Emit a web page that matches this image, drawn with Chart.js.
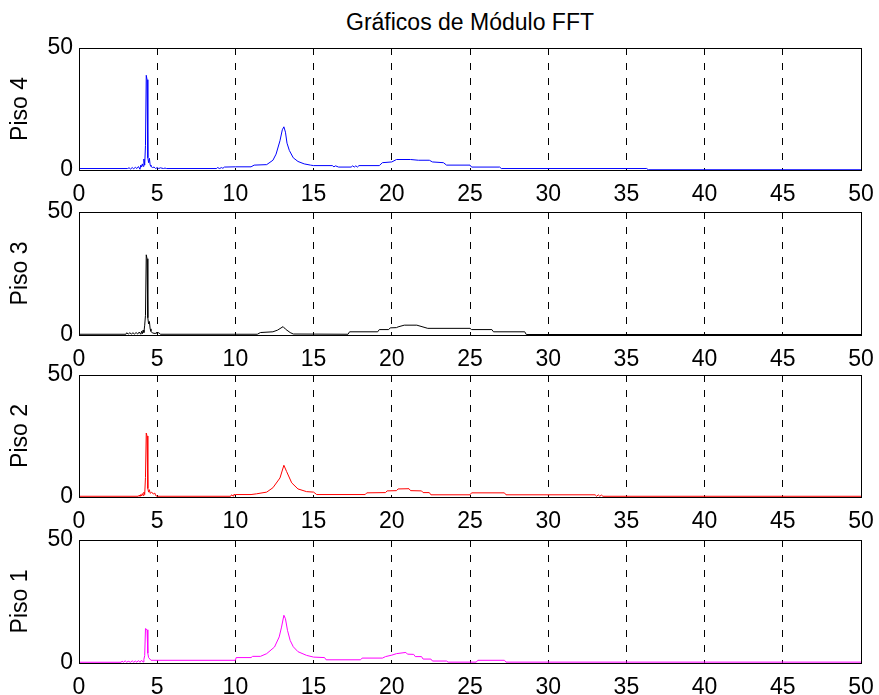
<!DOCTYPE html>
<html>
<head>
<meta charset="utf-8">
<title>Gráficos de Módulo FFT</title>
<script src="https://cdn.jsdelivr.net/npm/chart.js@4.4.1/dist/chart.umd.min.js"></script>
<style>
  html, body { margin: 0; padding: 0; background: #fff; }
  body { width: 879px; height: 695px; position: relative; overflow: hidden; font-family: 'Liberation Sans', Arial, sans-serif; }
  #title { position: absolute; left: 79px; width: 782px; top: 9px; text-align: center; font-size: 23px; line-height: 26px; color: #000; }
  .panel { position: absolute; left: 0; }
</style>
</head>
<body>
<div id="title">Gráficos de Módulo FFT</div>
<div class="panel" style="top:34px"><canvas id="c4" width="879" height="172"></canvas></div>
<div class="panel" style="top:198px"><canvas id="c3" width="879" height="173"></canvas></div>
<div class="panel" style="top:361px"><canvas id="c2" width="879" height="172"></canvas></div>
<div class="panel" style="top:526px"><canvas id="c1" width="879" height="173"></canvas></div>
<script>
// frequency (Hz) and FFT magnitude pairs for each floor
const piso4 = [[0,0.6],[3.1,0.6],[3.2,0.9],[3.3,0.4],[3.4,1.0],[3.5,0.5],[3.6,1.1],[3.7,0.6],[3.8,1.4],[3.9,0.3],
  [3.95,2.0],[4.0,1.2],[4.05,2.5],[4.1,1.5],[4.15,4.5],[4.2,2.0],[4.25,10],[4.3,38.8],[4.35,37],[4.4,5.0],
  [4.45,3.0],[4.5,4.8],[4.55,2.0],[4.6,1.5],[4.7,1.0],[4.8,1.2],[4.9,0.6],[5.0,1.0],[5.1,0.6],[5.2,0.9],
  [5.4,0.6],[5.5,0.8],[5.6,0.6],[8.8,0.6],[8.85,1.0],[9.0,0.6],[9.1,1.0],[9.2,0.7],[9.3,1.2],[10.0,1.3],
  [11.0,1.3],[11.2,2.0],[12.0,2.2],[12.4,4.0],[12.6,6.5],[12.85,12],[13.0,16.5],[13.1,17.7],[13.2,15.5],[13.3,11],
  [13.45,8.0],[13.7,5.0],[14.0,3.5],[14.4,2.5],[14.8,2.0],[15.0,1.8],[16.2,1.8],[16.3,1.3],[16.4,1.7],[16.6,1.2],
  [17.4,1.2],[17.5,1.7],[17.6,1.2],[17.7,1.7],[17.8,1.2],[17.9,1.8],[19.2,1.8],[19.4,3.0],[20.0,3.3],[20.3,4.3],
  [21.2,4.3],[21.7,4.0],[22.4,4.0],[22.6,3.3],[23.3,3.0],[23.5,2.0],[25.0,2.0],[25.1,1.2],[26.9,1.2],[27.0,0.6],
  [36.3,0.6],[36.4,0.1],[50,0.1]];

const piso3 = [[0,0.3],[3.0,0.3],[3.05,0.9],[3.15,0.4],[3.25,0.9],[3.35,0.4],[3.45,0.9],[3.55,0.4],[3.65,1.0],[3.75,0.4],
  [3.85,1.2],[3.95,0.3],[4.0,1.5],[4.05,0.5],[4.1,2.0],[4.15,1.0],[4.2,4.0],[4.25,8],[4.3,32.6],[4.35,31],
  [4.4,7],[4.45,4.5],[4.5,5.5],[4.55,2.5],[4.6,1.5],[4.7,0.8],[4.9,0.6],[4.95,1.1],[5.0,0.4],[5.1,1.0],
  [5.2,0.3],[11.4,0.3],[11.6,1.0],[12.4,1.3],[12.7,2.0],[13.05,3.4],[13.2,2.4],[13.5,1.0],[13.7,0.4],[17.2,0.3],
  [17.3,1.3],[19.1,1.3],[19.2,2.2],[19.8,2.2],[19.9,2.9],[20.3,3.0],[20.4,3.3],[20.8,4.0],[21.6,4.0],[22.3,2.7],
  [25.0,2.7],[25.1,2.2],[26.4,2.2],[26.5,1.3],[28.5,1.3],[28.6,0.2],[50,0.2]];

const piso2 = [[0,0.3],[3.8,0.3],[3.85,0.8],[3.9,0.3],[3.95,1.0],[4.0,0.4],[4.05,1.4],[4.1,0.6],[4.15,2.0],[4.2,1.0],
  [4.25,8],[4.3,26.2],[4.35,25],[4.4,3.5],[4.45,2.0],[4.5,3.0],[4.55,1.5],[4.65,2.0],[4.75,1.2],[4.85,1.6],
  [4.9,0.6],[5.0,0.3],[9.7,0.3],[9.75,0.9],[9.85,0.4],[9.9,1.0],[10.0,1.0],[11.0,1.0],[11.35,1.3],[12.0,2.0],
  [12.4,3.8],[12.85,7.8],[13.1,13.0],[13.27,10.5],[13.6,5.8],[14.0,3.3],[14.55,2.2],[15.0,2.0],[15.2,1.0],[18.3,1.0],
  [18.4,1.7],[19.6,1.8],[19.7,2.5],[20.3,2.6],[20.4,3.3],[21.1,3.4],[21.2,2.6],[21.9,2.5],[22.0,1.8],[22.4,1.8],
  [22.5,0.9],[25.0,0.9],[25.1,1.7],[27.2,1.7],[27.3,0.9],[33.0,0.9],[33.1,0.3],[33.2,0.9],[33.3,0.3],[33.4,0.8],
  [33.5,0.3],[50,0.3]];

const piso1 = [[0,0.3],[2.7,0.3],[2.75,0.8],[2.85,0.3],[2.95,0.9],[3.05,0.3],[3.15,0.7],[3.3,0.3],[3.4,0.9],[3.5,0.3],
  [3.6,0.8],[3.7,0.3],[3.8,1.0],[3.9,0.3],[4.0,1.1],[4.1,0.4],[4.15,1.5],[4.2,3.0],[4.25,14.0],[4.35,13.5],
  [4.4,4.0],[4.45,2.2],[4.6,1.1],[10.0,1.1],[10.05,2.2],[11.0,2.2],[11.1,2.7],[11.6,2.7],[12.0,3.8],[12.5,6.5],
  [12.8,10.6],[12.95,14.6],[13.1,19.4],[13.2,18.0],[13.33,13.3],[13.5,9.2],[13.7,6.6],[14.0,4.6],[14.55,3.1],[15.0,2.4],
  [15.7,2.2],[15.8,1.3],[18.0,1.3],[18.1,2.0],[19.4,2.0],[19.6,2.6],[20.0,3.2],[20.3,3.8],[20.9,4.3],[21.0,3.6],
  [21.4,3.5],[21.5,2.6],[21.9,2.6],[22.0,1.6],[22.5,1.6],[22.6,0.8],[23.5,0.8],[23.6,0.35],[25.4,0.35],[25.5,1.1],
  [27.2,1.1],[27.3,0.35],[50,0.35]];

const xTicks = [0, 5, 10, 15, 20, 25, 30, 35, 40, 45, 50];
const yTicks = [0, 50];

Chart.defaults.font.family = "'Liberation Sans', Arial, sans-serif";
Chart.defaults.font.size = 23;
Chart.defaults.color = '#000';

// black frame around the plotting area
const axesBox = {
    id: 'axesBox',
    afterDatasetsDraw(chart) {
        const { ctx, chartArea: a } = chart;
        ctx.save();
        ctx.strokeStyle = '#000';
        ctx.lineWidth = 1;
        ctx.strokeRect(a.left + 0.5, a.top + 0.5, a.right - a.left, a.bottom - a.top);
        ctx.restore();
    }
};

function makePanel(canvasId, label, points, color) {
    const ctx = document.getElementById(canvasId).getContext('2d');
    return new Chart(ctx, {
        type: 'line',
        data: {
            datasets: [{
                label: label,
                data: points.map(p => ({ x: p[0], y: p[1] })),
                borderColor: color,
                borderWidth: 1,
                pointRadius: 0,
                tension: 0,
                fill: false
            }]
        },
        options: {
            responsive: false,
            animation: false,
            layout: { padding: { left: 0, right: 18, top: 14, bottom: 0 } },
            plugins: { legend: { display: false }, tooltip: { enabled: false } },
            scales: {
                x: {
                    type: 'linear',
                    min: 0,
                    max: 50,
                    afterBuildTicks: s => { s.ticks = xTicks.map(v => ({ value: v })); },
                    afterFit: s => { s.height = 36; s.paddingLeft = 0; s.paddingRight = 0; },
                    ticks: { autoSkip: false, maxRotation: 0, padding: 11 },
                    grid: {
                        drawTicks: false,
                        tickLength: 0,
                        lineWidth: 1,
                        color: c => (c.tick && (c.tick.value === 0 || c.tick.value === 50)) ? 'rgba(0,0,0,0)' : '#000'
                    },
                    border: { display: false, dash: [7, 8] }
                },
                y: {
                    min: 0,
                    max: 50,
                    afterBuildTicks: s => { s.ticks = yTicks.map(v => ({ value: v })); },
                    afterFit: s => { s.width = 79; s.paddingTop = 0; s.paddingBottom = 0; },
                    ticks: { padding: 6 },
                    grid: { display: false, drawTicks: false, tickLength: 0 },
                    border: { display: false },
                    title: { display: true, text: label, padding: { top: 7, bottom: 0 } }
                }
            }
        },
        plugins: [axesBox]
    });
}

makePanel('c4', 'Piso 4', piso4, '#0000ff');
makePanel('c3', 'Piso 3', piso3, '#000000');
makePanel('c2', 'Piso 2', piso2, '#ff0000');
makePanel('c1', 'Piso 1', piso1, '#ff00ff');
</script>
</body>
</html>
